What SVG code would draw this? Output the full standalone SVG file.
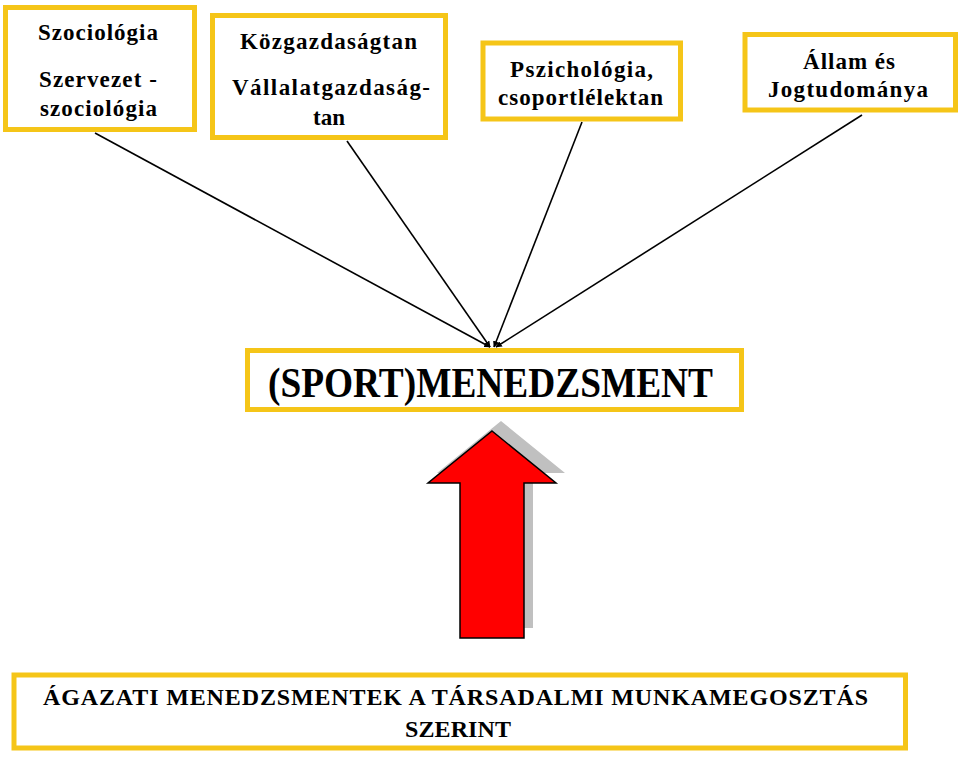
<svg xmlns="http://www.w3.org/2000/svg" width="960" height="758" viewBox="0 0 960 758">
<style>
.box{fill:#fff;stroke:#F5C518;stroke-width:5}
.conn{stroke:#000;stroke-width:1.6;fill:none}
</style>
<defs>
<marker id="ah" viewBox="0 0 10 10" refX="9" refY="5" markerWidth="4" markerHeight="4" orient="auto" markerUnits="strokeWidth">
<path d="M0,0 L10,5 L0,10 z" fill="#000"/>
</marker>
</defs>
<rect width="960" height="758" fill="#fff"/>
<g id="connectors">
<line class="conn" x1="95" y1="133" x2="490" y2="347" marker-end="url(#ah)"/>
<line class="conn" x1="347" y1="141" x2="490" y2="347" marker-end="url(#ah)"/>
<line class="conn" x1="582" y1="122" x2="494" y2="347" marker-end="url(#ah)"/>
<line class="conn" x1="862" y1="115" x2="496" y2="347" marker-end="url(#ah)"/>
</g>
<g font-family="Liberation Serif, DejaVu Serif, Noto Serif, Times New Roman, Times, serif" font-weight="bold" text-anchor="middle" fill="#000">
<g id="szociologia">
<rect class="box" x="5.5" y="7.5" width="189" height="122"/>
<text font-size="23" x="98" y="40" textLength="120" lengthAdjust="spacing">Szociológia</text>
<text font-size="23" x="98" y="87" textLength="118" lengthAdjust="spacing">Szervezet -</text>
<text font-size="23" x="98.5" y="116" textLength="117" lengthAdjust="spacing">szociológia</text>
</g>
<g id="kozgazdasagtan">
<rect class="box" x="212.5" y="15.5" width="233" height="122"/>
<text font-size="23" x="328.5" y="49" textLength="177" lengthAdjust="spacing">Közgazdaságtan</text>
<text font-size="23" x="331" y="95" textLength="198" lengthAdjust="spacing">Vállalatgazdaság-</text>
<text font-size="23" x="329" y="125" textLength="32" lengthAdjust="spacing">tan</text>
</g>
<g id="pszichologia">
<rect class="box" x="483" y="43" width="197.5" height="76"/>
<text font-size="23" x="581.5" y="77" textLength="143" lengthAdjust="spacing">Pszichológia,</text>
<text font-size="23" x="580.5" y="105" textLength="165" lengthAdjust="spacing">csoportlélektan</text>
</g>
<g id="allam">
<rect class="box" x="745" y="34.5" width="210.5" height="75.5"/>
<text font-size="23" x="849" y="69" textLength="92" lengthAdjust="spacing">Állam és</text>
<text font-size="23" x="848" y="97" textLength="160" lengthAdjust="spacing">Jogtudománya</text>
</g>
<g id="sportmenedzsment">
<rect class="box" x="247.5" y="350.5" width="494" height="59"/>
<text x="490.5" y="397" font-size="42" textLength="445" lengthAdjust="spacingAndGlyphs">(SPORT)MENEDZSMENT</text>
</g>
<g id="agazati">
<rect class="box" x="14" y="675" width="891.5" height="73"/>
<text x="455.5" y="705" font-size="24" textLength="825" lengthAdjust="spacing">ÁGAZATI MENEDZSMENTEK A TÁRSADALMI MUNKAMEGOSZTÁS</text>
<text x="458" y="737" font-size="24" textLength="106" lengthAdjust="spacing">SZERINT</text>
</g>
</g>
<g id="arrow">
<polygon points="501,421 565,473 533,473 533,628 469,628 469,473 437,473" fill="#C0C0C0"/>
<polygon points="492,431 556,483 524,483 524,638 460,638 460,483 428,483" fill="#FF0000" stroke="#000" stroke-width="1.5"/>
</g>
</svg>
